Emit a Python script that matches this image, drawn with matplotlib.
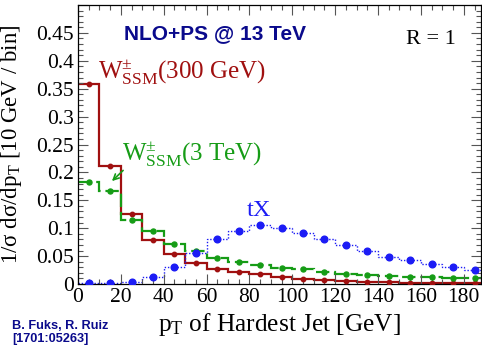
import numpy as np
import matplotlib
matplotlib.use("Agg")
import matplotlib.pyplot as plt
from matplotlib.ticker import MultipleLocator, FuncFormatter

plt.rcParams['font.family'] = ['Liberation Serif', 'DejaVu Serif']
plt.rcParams['mathtext.fontset'] = 'stix'
plt.rcParams['mathtext.default'] = 'regular'

# 10 GeV bins of the hardest-jet pT
edges = np.arange(0, 200, 10)
centers = edges[:-1] + 5

w300 = [0.358, 0.212, 0.126, 0.079, 0.053, 0.037, 0.027, 0.022, 0.018, 0.0125,
        0.0095, 0.0071, 0.006, 0.0036, 0.003, 0.002, 0.0018, 0.0018, 0.0012]
w3tev = [0.183, 0.167, 0.1155, 0.0946, 0.0708, 0.059, 0.046, 0.040, 0.0345, 0.0286,
         0.0268, 0.0214, 0.0185, 0.0167, 0.0143, 0.013, 0.012, 0.011, 0.011]
tx = [0.001, 0.001, 0.0036, 0.0125, 0.030, 0.0548, 0.0815, 0.0946, 0.1055, 0.100,
      0.092, 0.080, 0.0696, 0.059, 0.0476, 0.0435, 0.0357, 0.0304, 0.0244]

red = '#a01010'
green = '#169c16'
blue = '#1c1cf5'
navy = '#0a0a8c'

fig = plt.figure(figsize=(4.82, 3.45), dpi=100)
ax = fig.add_axes([0.1618, 0.1768, 0.836, 0.8087])

ax.stairs(w300, edges, color=red, lw=1.6, baseline=None)
ax.plot(centers, w300, 'o', color=red, ms=3.2, zorder=3)
ax.stairs(w3tev, edges, color=green, lw=1.6, ls=(0, (6, 2.2)), baseline=None)
ax.plot(centers, w3tev, 'o', color=green, ms=3.6, zorder=3)
ax.stairs(tx, edges, color=blue, lw=1.0, ls=(0, (1, 1.3)), baseline=None)
ax.plot(centers, tx, 'o', color=blue, ms=4.8, zorder=4)

ax.set_xlim(0, 188)
ax.set_ylim(0, 0.5)
ax.xaxis.set_major_locator(MultipleLocator(20))
ax.xaxis.set_minor_locator(MultipleLocator(5))
ax.yaxis.set_major_locator(MultipleLocator(0.05))
ax.yaxis.set_minor_locator(MultipleLocator(0.01))
ax.yaxis.set_major_formatter(FuncFormatter(lambda v, p: '' if v > 0.47 else '%g' % round(v, 3)))
ax.tick_params(which='both', direction='in', top=True, right=True, labelsize=15.5,
               width=0.8, color='#555555')
ax.tick_params(which='major', length=7, pad=3)
ax.tick_params(which='minor', length=3.5)
for s in ax.spines.values():
    s.set_linewidth(0.9)

ax.set_xlabel(r'$p_{T}$ of Hardest Jet [GeV]', fontsize=18.3, labelpad=0)
ax.xaxis.set_label_coords(0.50, -0.095)
ax.set_ylabel(r'1/σ dσ/d$p_{T}$ [10 GeV / bin]', fontsize=16.5)
ax.yaxis.set_label_coords(-0.135, 0.5)

ax.text(64, 0.448, 'NLO+PS @ 13 TeV', color=navy, fontsize=15, fontweight='bold',
        family='Liberation Sans', ha='center', va='center')
ax.text(164.5, 0.439, 'R = 1', fontsize=16, ha='center', va='center')
ax.text(9.3, 0.368, r'$W^{\pm}_{SSM}$(300 GeV)', color=red, fontsize=18, va='baseline')
ax.text(20.5, 0.221, r'$W^{\pm}_{SSM}$(3 TeV)', color=green, fontsize=18, va='baseline')
ax.text(78.6, 0.121, 'tX', color=blue, fontsize=17.5, va='baseline')
ax.annotate('', xy=(14.9, 0.181), xytext=(22, 0.207),
            arrowprops=dict(arrowstyle='->', color=green, lw=1.2))

fig.text(12 / 482, 1 - 342 / 345, 'B. Fuks, R. Ruiz\n[1701:05263]', color=navy,
         fontsize=9.2, fontweight='bold', family='Liberation Sans', va='baseline',
         linespacing=1.15)

fig.savefig('out.png', dpi=100)
